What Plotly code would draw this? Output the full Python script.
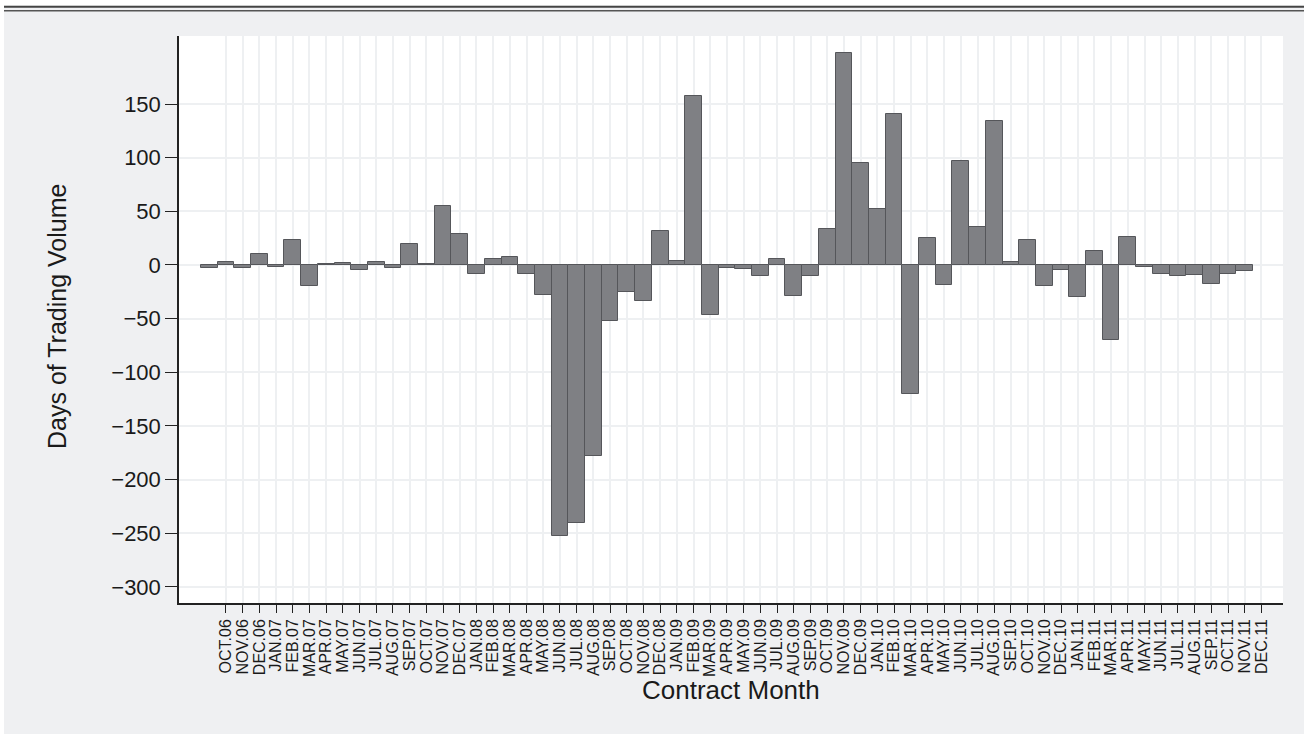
import plotly.graph_objects as go

# Contract months shown on the horizontal axis
months = [
    "OCT.06", "NOV.06", "DEC.06",
    "JAN.07", "FEB.07", "MAR.07", "APR.07", "MAY.07", "JUN.07",
    "JUL.07", "AUG.07", "SEP.07", "OCT.07", "NOV.07", "DEC.07",
    "JAN.08", "FEB.08", "MAR.08", "APR.08", "MAY.08", "JUN.08",
    "JUL.08", "AUG.08", "SEP.08", "OCT.08", "NOV.08", "DEC.08",
    "JAN.09", "FEB.09", "MAR.09", "APR.09", "MAY.09", "JUN.09",
    "JUL.09", "AUG.09", "SEP.09", "OCT.09", "NOV.09", "DEC.09",
    "JAN.10", "FEB.10", "MAR.10", "APR.10", "MAY.10", "JUN.10",
    "JUL.10", "AUG.10", "SEP.10", "OCT.10", "NOV.10", "DEC.10",
    "JAN.11", "FEB.11", "MAR.11", "APR.11", "MAY.11", "JUN.11",
    "JUL.11", "AUG.11", "SEP.11", "OCT.11", "NOV.11", "DEC.11",
]

# Days of trading volume, one value per contract month
days_volume = [
    -3, 3, -2.5, 10, -1.5, 23.5, -19.5, 0.5, 1.5, -5,
    2.5, -3, 19.5, 0.5, 55, 29, -8, 6, 7, -8.5,
    -28, -253, -240, -178, -52, -25, -34, 31.5, 3.5, 157.5,
    -47, -3, -4, -10, 6, -28.5, -10, 34, 198, 95,
    52, 141, -120, 25, -18.5, 96.5, 35, 134.5, 3, 23,
    -20, -5, -30, 13.5, -69.5, 26, -2, -8.5, -10, -9.5,
    -18, -8.5, -6,
]

y_ticks = [-300, -250, -200, -150, -100, -50, 0, 50, 100, 150]

W, H = 1304, 734
L, R, T, B = 179, 21, 36, 131
plot_w = W - L - R
plot_h = H - T - B

BG = "#eff0f2"
GRID = "#eef0f2"
FONT = "Liberation Sans, Arial, sans-serif"

fig = go.Figure()
fig.add_trace(go.Bar(
    x=months,
    y=days_volume,
    width=1,
    offset=-1.5,
    marker=dict(color="#7f8084", line=dict(color="#55565a", width=1)),
    showlegend=False,
))


def px_x(x):
    return (x - L) / plot_w


def px_y(y):
    return (H - B - y) / plot_h


shapes = [
    # white strips framing the graph at the top and left
    dict(type="rect", xref="paper", yref="paper",
         x0=px_x(0), x1=px_x(W), y0=px_y(0), y1=px_y(5.5),
         fillcolor="white", line=dict(width=0), layer="below"),
    dict(type="rect", xref="paper", yref="paper",
         x0=px_x(0), x1=px_x(4), y0=px_y(0), y1=px_y(H),
         fillcolor="white", line=dict(width=0), layer="below"),
    # double rule along the top
    dict(type="line", xref="paper", yref="paper",
         x0=px_x(4), x1=px_x(W), y0=px_y(6.8), y1=px_y(6.8),
         line=dict(color="#444444", width=2)),
    dict(type="line", xref="paper", yref="paper",
         x0=px_x(4), x1=px_x(W), y0=px_y(10.8), y1=px_y(10.8),
         line=dict(color="#555555", width=1.5)),
]

fig.update_layout(
    width=W, height=H,
    margin=dict(l=L, r=R, t=T, b=B, pad=0),
    paper_bgcolor=BG,
    plot_bgcolor="white",
    bargap=0,
    font=dict(family=FONT, color="#1a1a1a"),
    shapes=shapes,
    xaxis=dict(
        type="category",
        range=[-2.81, 63.29],
        tickmode="array", tickvals=months, ticktext=months,
        showgrid=True, gridcolor=GRID, gridwidth=2,
        showline=True, linecolor="#222222", linewidth=1.5,
        ticks="outside", ticklen=8, tickwidth=1.3, tickcolor="#222222",
        tickangle=-90,
        tickfont=dict(size=16, family=FONT, color="#1a1a1a"),
        zeroline=False,
    ),
    yaxis=dict(
        range=[-315, 213.4],
        tickmode="array", tickvals=y_ticks,
        showgrid=True, gridcolor=GRID, gridwidth=2,
        showline=True, linecolor="#222222", linewidth=1.5,
        ticks="outside", ticklen=12, tickwidth=1.3, tickcolor="#222222",
        tickfont=dict(size=22, family=FONT, color="#1a1a1a"),
        zeroline=False,
    ),
    annotations=[
        dict(text="Contract Month", xref="paper", yref="paper",
             x=px_x(731), y=px_y(690), xanchor="center", yanchor="middle",
             showarrow=False, font=dict(size=26, family=FONT, color="#1a1a1a")),
        dict(text="Days of Trading Volume", xref="paper", yref="paper",
             x=px_x(57), y=px_y(317), xanchor="center", yanchor="middle",
             textangle=-90, showarrow=False,
             font=dict(size=25, family=FONT, color="#1a1a1a")),
    ],
)

fig.write_html("out.html")
